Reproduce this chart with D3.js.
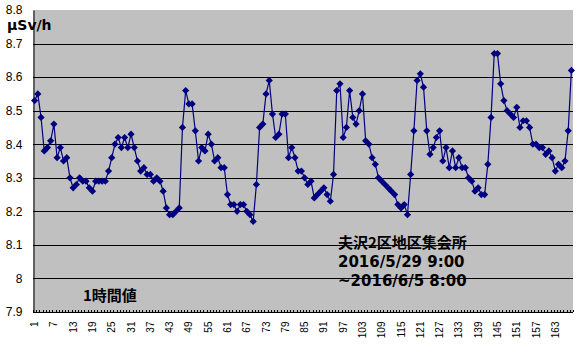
<!DOCTYPE html>
<html>
<head>
<meta charset="utf-8">
<script src="https://cdn.jsdelivr.net/npm/d3@7"></script>
<style>
html,body{margin:0;padding:0;background:#fff;}
svg{display:block;}
</style>
</head>
<body>
<svg id="chart" width="578" height="347"></svg>
<script>
// ---- data ----
const hours = d3.range(1, 169);
const values = [
8.53, 8.55, 8.48, 8.38, 8.39, 8.41, 8.46, 8.36, 8.39, 8.35,
8.36, 8.30, 8.27, 8.28, 8.30, 8.29, 8.29, 8.27, 8.26, 8.29,
8.29, 8.29, 8.29, 8.32, 8.36, 8.40, 8.42, 8.39, 8.42, 8.39,
8.43, 8.39, 8.35, 8.32, 8.33, 8.31, 8.31, 8.29, 8.30, 8.29,
8.26, 8.21, 8.19, 8.19, 8.20, 8.21, 8.45, 8.56, 8.52, 8.52,
8.44, 8.35, 8.39, 8.38, 8.43, 8.40, 8.35, 8.36, 8.33, 8.33,
8.25, 8.22, 8.22, 8.20, 8.22, 8.22, 8.20, 8.19, 8.17, 8.28,
8.45, 8.46, 8.55, 8.59, 8.49, 8.42, 8.43, 8.49, 8.49, 8.36,
8.39, 8.36, 8.32, 8.32, 8.30, 8.28, 8.29, 8.24, 8.25, 8.26,
8.27, 8.25, 8.23, 8.31, 8.56, 8.58, 8.42, 8.45, 8.56, 8.48,
8.46, 8.50, 8.55, 8.41, 8.40, 8.36, 8.34, 8.30, 8.29, 8.28,
8.27, 8.26, 8.25, 8.22, 8.21, 8.22, 8.19, 8.31, 8.44, 8.59,
8.61, 8.57, 8.44, 8.37, 8.39, 8.42, 8.44, 8.35, 8.39, 8.33,
8.38, 8.33, 8.36, 8.33, 8.33, 8.30, 8.29, 8.26, 8.27, 8.25,
8.25, 8.34, 8.48, 8.67, 8.67, 8.58, 8.53, 8.50, 8.49, 8.48,
8.51, 8.45, 8.47, 8.47, 8.45, 8.40, 8.40, 8.39, 8.39, 8.37,
8.38, 8.36, 8.32, 8.34, 8.33, 8.35, 8.44, 8.62
];
const xTickValues = d3.range(1, 169, 6);
const yTickValues = [7.9, 8.0, 8.1, 8.2, 8.3, 8.4, 8.5, 8.6, 8.7, 8.8];
const yTickLabels = ["7.9", "8", "8.1", "8.2", "8.3", "8.4", "8.5", "8.6", "8.7", "8.8"];
const unitLabel = "μSv/h";
const seriesLabel = "1時間値";
const noteLines = ["夫沢2区地区集会所", "2016/5/29 9:00", "~2016/6/5 8:00"];

// ---- layout ----
const plot = {left: 33, top: 10, right: 573, bottom: 312};
const svg = d3.select("#chart");

const x = d3.scaleBand().domain(hours).range([plot.left, plot.right]).paddingInner(0).paddingOuter(0);
const y = d3.scaleLinear().domain([7.9, 8.8]).range([plot.bottom, plot.top]);
const cx = d => x(d) + x.bandwidth() / 2;

// plot background
svg.append("rect")
  .attr("x", plot.left).attr("y", plot.top)
  .attr("width", plot.right - plot.left).attr("height", plot.bottom - plot.top)
  .attr("fill", "#c0c0c0");

// gridlines
svg.append("g").selectAll("line")
  .data(yTickValues.filter(v => v > 7.95 && v < 8.75))
  .join("line")
  .attr("x1", plot.left).attr("x2", plot.right)
  .attr("y1", d => Math.round(y(d)) + 0.5).attr("y2", d => Math.round(y(d)) + 0.5)
  .attr("stroke", "#000").attr("stroke-width", 1);

// y axis
const yAxis = d3.axisLeft(y).tickValues(yTickValues)
  .tickFormat((d, i) => yTickLabels[i]).tickSize(0).tickPadding(11);
const gy = svg.append("g").attr("transform", `translate(${plot.left + 0.5},0)`).call(yAxis);
gy.select(".domain").attr("stroke", "#000");
gy.selectAll("text").attr("font-family", "'Liberation Sans', Arial, sans-serif")
  .attr("font-size", 12).attr("fill", "#000");

// x axis
const xAxis = d3.axisBottom(x).tickValues(xTickValues).tickSize(0).tickPadding(0);
const gx = svg.append("g").attr("transform", `translate(0,${plot.bottom + 0.5})`).call(xAxis);
gx.select(".domain").attr("stroke", "#000").attr("d", `M${plot.left},0H${plot.right}`);
gx.selectAll(".tick text")
  .attr("font-family", "'Liberation Sans', Arial, sans-serif")
  .attr("font-size", 10).attr("fill", "#000")
  .attr("text-anchor", "end")
  .attr("transform", "translate(0,9) rotate(-90)")
  .attr("x", 0).attr("y", 0).attr("dy", "0.35em");

// small category tick marks (inward)
svg.append("g").selectAll("line")
  .data(hours.concat([169]))
  .join("line")
  .attr("x1", d => Math.round(d <= 168 ? x(d) : plot.right) + 0.5)
  .attr("x2", d => Math.round(d <= 168 ? x(d) : plot.right) + 0.5)
  .attr("y1", plot.bottom).attr("y2", plot.bottom - 2)
  .attr("stroke", "#000").attr("stroke-width", 1);

// line
const line = d3.line().x((d, i) => cx(hours[i])).y(d => y(d));
svg.append("path").datum(values)
  .attr("d", line).attr("fill", "none")
  .attr("stroke", "#000080").attr("stroke-width", 1.2);

// markers
const sym = d3.symbol().type(d3.symbolSquare).size(26);
svg.append("g").selectAll("path")
  .data(values)
  .join("path")
  .attr("d", sym)
  .attr("transform", (d, i) => `translate(${cx(hours[i])},${y(d)}) rotate(45)`)
  .attr("fill", "#000080");

// unit label
svg.append("text").attr("x", 7).attr("y", 30)
  .attr("font-family", "'DejaVu Sans', sans-serif").attr("font-weight", "bold")
  .attr("font-size", 14).attr("fill", "#000").text(unitLabel);

// series label
svg.append("text").attr("x", 83).attr("y", 301)
  .attr("font-family", "'Noto Sans CJK JP', sans-serif").attr("font-weight", "bold")
  .attr("font-size", 15).attr("fill", "#000").text(seriesLabel);

// note
const note = svg.append("text")
  .attr("font-family", "'DejaVu Sans', 'Noto Sans CJK JP', sans-serif").attr("font-weight", "bold")
  .attr("font-size", 15).attr("fill", "#000");
noteLines.forEach((t, i) => {
  note.append("tspan").attr("x", 338).attr("y", 248 + i * 19)
    .attr("font-family", i === 0 ? "'Noto Sans CJK JP', sans-serif" : "'DejaVu Sans', sans-serif")
    .text(t);
});
</script>
</body>
</html>
